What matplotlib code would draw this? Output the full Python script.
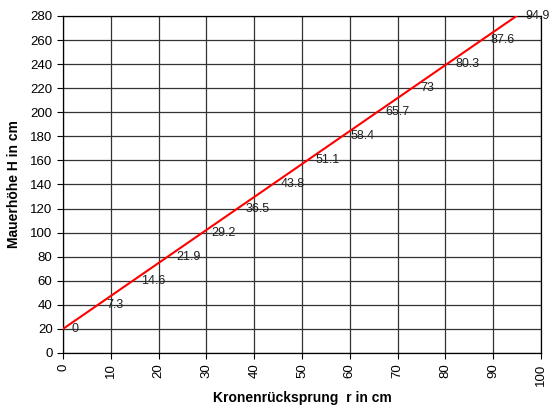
import matplotlib

matplotlib.use("Agg")
import matplotlib.pyplot as plt

plt.rcParams["font.family"] = ["Liberation Sans", "DejaVu Sans"]

# Kronenrücksprung r (cm) against Mauerhöhe H (cm)
r_cm = [0, 7.3, 14.6, 21.9, 29.2, 36.5, 43.8, 51.1, 58.4, 65.7, 73, 80.3, 87.6, 94.9]
h_cm = [20, 40, 60, 80, 100, 120, 140, 160, 180, 200, 220, 240, 260, 280]
point_labels = ["0", "7.3", "14.6", "21.9", "29.2", "36.5", "43.8", "51.1",
                "58.4", "65.7", "73", "80.3", "87.6", "94.9"]

fig = plt.figure(figsize=(5.49, 4.09), dpi=100)
ax = fig.add_axes([0.1148, 0.137, 0.8706, 0.824])

ax.plot(r_cm, h_cm, color="#ff0000", linewidth=1.5, zorder=3)
for x, y, lab in zip(r_cm, h_cm, point_labels):
    ax.annotate(lab, (x, y), xytext=(6, 0), textcoords="offset points",
                ha="left", va="center", fontsize=9, color="#222222",
                annotation_clip=False, zorder=4)

ax.set_xlim(0, 100)
ax.set_ylim(0, 280)
ax.set_xticks(range(0, 101, 10))
ax.set_yticks(range(0, 281, 20))
ax.tick_params(axis="x", labelrotation=90, labelsize=9.5, length=4, width=0.8)
ax.tick_params(axis="y", labelsize=9.5, length=4, width=0.8)
ax.grid(True, color="#333333", linewidth=0.9)
ax.set_axisbelow(True)
for s in ax.spines.values():
    s.set_color("black")
    s.set_linewidth(0.9)

ax.set_xlabel("Kronenrücksprung  r in cm", fontsize=10, fontweight="bold",
              labelpad=4)
ax.set_ylabel("Mauerhöhe H in cm", fontsize=10, fontweight="bold", labelpad=7)

fig.savefig("out.png", dpi=100, facecolor="white")
